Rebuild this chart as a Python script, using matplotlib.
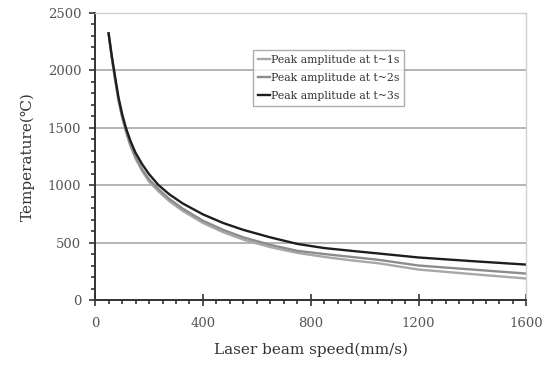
import matplotlib
matplotlib.use("Agg")
import matplotlib.pyplot as plt
from matplotlib.ticker import MultipleLocator

# laser beam speed (mm/s)
speed = [50, 62, 75, 87, 100, 114, 130, 150, 175, 200, 235, 275, 325, 400,
         475, 550, 650, 750, 850, 950, 1050, 1200, 1400, 1600]

# peak temperature (deg C)
peak_1s = [2320, 2100, 1900, 1730, 1590, 1465, 1345, 1230, 1120, 1030, 945, 860, 775, 670,
           590, 525, 460, 410, 375, 345, 320, 265, 225, 187]
peak_2s = [2320, 2110, 1910, 1740, 1600, 1475, 1360, 1245, 1135, 1050, 965, 880, 795, 690,
           610, 545, 480, 428, 400, 375, 350, 300, 265, 230]
peak_3s = [2320, 2120, 1930, 1760, 1620, 1500, 1390, 1280, 1180, 1095, 1000, 920, 840, 745,
           670, 610, 545, 488, 452, 428, 405, 370, 338, 308]

plt.rcParams['font.family'] = ['DejaVu Serif', 'DejaVu Sans']

fig = plt.figure(figsize=(5.53, 3.72), dpi=100)
ax = fig.add_axes([0.172, 0.1935, 0.78, 0.7725])

ax.plot(speed, peak_1s, color='#a8a8a8', lw=1.7, label='Peak amplitude at t~1s')
ax.plot(speed, peak_2s, color='#8c8c8c', lw=1.7, label='Peak amplitude at t~2s')
ax.plot(speed, peak_3s, color='#1e1e1e', lw=1.7, label='Peak amplitude at t~3s')

ax.set_xlim(0, 1600)
ax.set_ylim(0, 2500)
ax.xaxis.set_major_locator(MultipleLocator(400))
ax.xaxis.set_minor_locator(MultipleLocator(50))
ax.yaxis.set_major_locator(MultipleLocator(500))
ax.yaxis.set_minor_locator(MultipleLocator(100))

ax.grid(True, axis='y', color='#b4b4b4', lw=1.4)
ax.set_axisbelow(True)

for s in ['left', 'bottom']:
    ax.spines[s].set_color('#333333')
    ax.spines[s].set_linewidth(1.4)
for s in ['top', 'right']:
    ax.spines[s].set_color('#d0d0d0')
    ax.spines[s].set_linewidth(1.0)

ax.tick_params(axis='x', which='major', direction='inout', length=8, width=1.2, colors='#333333', labelsize=9.5, pad=8)
ax.tick_params(axis='x', which='minor', direction='out', length=3, width=1.2, colors='#333333')
ax.tick_params(axis='y', which='major', direction='out', length=4, width=1.2, colors='#333333', labelsize=9.5, pad=6)
ax.tick_params(axis='y', which='minor', direction='out', length=3, width=1.2, colors='#333333')
for lab in ax.get_xticklabels() + ax.get_yticklabels():
    lab.set_color('#555555')

ax.set_xlabel('Laser beam speed(mm/s)', fontsize=11, color='#333333', labelpad=9)
ax.set_ylabel('Temperature(℃)', fontsize=11, color='#333333', labelpad=9)

leg = ax.legend(loc='upper left', bbox_to_anchor=(0.366, 0.871), fontsize=7.8,
                handlelength=1.1, handletextpad=0.1, borderpad=0.45, labelspacing=0.75,
                frameon=True, fancybox=False, borderaxespad=0)
leg.get_frame().set_edgecolor('#999999')
leg.get_frame().set_linewidth(1.0)
for t in leg.get_texts():
    t.set_color('#333333')

fig.savefig('out.png', dpi=100)
